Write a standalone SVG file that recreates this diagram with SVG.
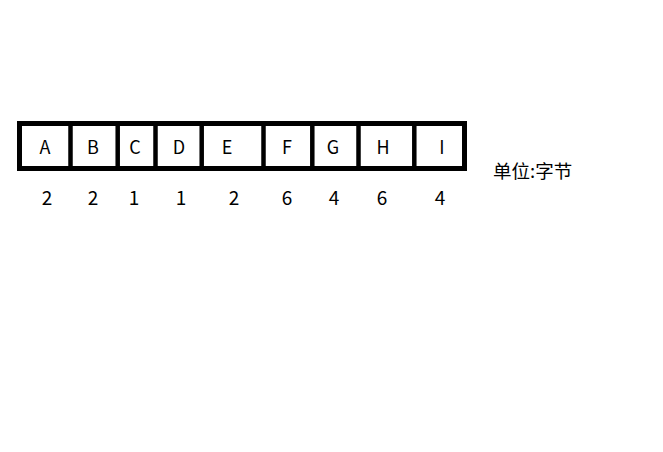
<svg xmlns="http://www.w3.org/2000/svg" width="663" height="452" viewBox="0 0 663 452">
<style>
.box{fill:#fff;stroke:#000;stroke-width:5}
.div{stroke:#000;stroke-width:4.5}
.lbl{font-family:"Noto Sans CJK SC","Noto Sans","DejaVu Sans",sans-serif;font-size:18px;fill:#000;text-anchor:middle}
.num{font-family:"Noto Sans CJK SC","Noto Sans","DejaVu Sans",sans-serif;font-size:19px;fill:#000;text-anchor:middle}
.unit{font-family:"Noto Sans CJK SC",sans-serif;font-size:18.5px;fill:#000}
</style>
<rect width="663" height="452" fill="#fff"/>
<g id="frame"><rect class="box" x="19.5" y="123.5" width="445" height="45"/></g>
<g id="dividers">
<line class="div" x1="70.5" y1="123.5" x2="70.5" y2="168.5"/>
<line class="div" x1="117.7" y1="123.5" x2="117.7" y2="168.5"/>
<line class="div" x1="155.5" y1="123.5" x2="155.5" y2="168.5"/>
<line class="div" x1="201.7" y1="123.5" x2="201.7" y2="168.5"/>
<line class="div" x1="263.5" y1="123.5" x2="263.5" y2="168.5"/>
<line class="div" x1="312.3" y1="123.5" x2="312.3" y2="168.5"/>
<line class="div" x1="358.5" y1="123.5" x2="358.5" y2="168.5"/>
<line class="div" x1="414.3" y1="123.5" x2="414.3" y2="168.5"/>
</g>
<g id="A"><text class="lbl" x="45" y="154">A</text><text class="num" x="47" y="205">2</text></g>
<g id="B"><text class="lbl" x="93" y="154">B</text><text class="num" x="93" y="205">2</text></g>
<g id="C"><text class="lbl" x="135" y="154">C</text><text class="num" x="134" y="205">1</text></g>
<g id="D"><text class="lbl" x="179" y="154">D</text><text class="num" x="181" y="205">1</text></g>
<g id="E"><text class="lbl" x="227" y="154">E</text><text class="num" x="234" y="205">2</text></g>
<g id="F"><text class="lbl" x="287" y="154">F</text><text class="num" x="287" y="205">6</text></g>
<g id="G"><text class="lbl" x="333" y="154">G</text><text class="num" x="334" y="205">4</text></g>
<g id="H"><text class="lbl" x="383" y="154">H</text><text class="num" x="382" y="205">6</text></g>
<g id="I"><text class="lbl" x="442" y="154">I</text><text class="num" x="440" y="205">4</text></g>
<g id="unit"><text class="unit" x="493" y="178">单位:字节</text></g>
</svg>
